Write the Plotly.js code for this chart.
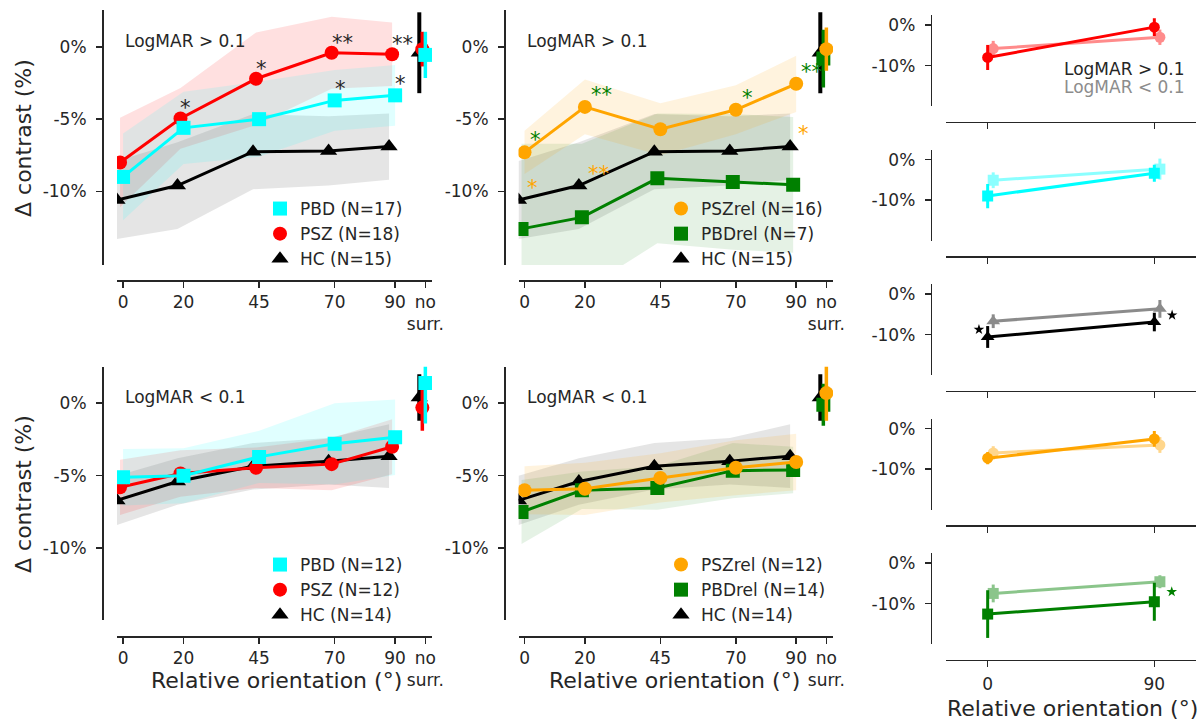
<!DOCTYPE html>
<html><head><meta charset="utf-8">
<script src="https://cdn.plot.ly/plotly-3.0.1.min.js"></script>
<style>html,body{margin:0;padding:0;background:#fff}#chart{width:1202px;height:721px}</style>
</head><body><div id="chart"></div>
<script>
// ---------------- data ----------------
const orientations = [0, 20, 45, 70, 90];
const noSurrPos = 100;
const xTickVals = [0, 20, 45, 70, 90, 100];
const xTickText = ['0', '20', '45', '70', '90', 'no<br>surr.'];
const yTickVals = [0, -5, -10];
const yTickText = ['0%', '-5%', '-10%'];
const smallXTickVals = [0, 90];
const smallXTickText = ['0', '90'];
const smallYTickVals = [0, -10];
const smallYTickText = ['0%', '-10%'];

// LogMAR > 0.1 (top row)
const hiHC = [-10.6, -9.6, -7.25, -7.2, -6.9];
const hiHCErr = [2.7, 3.0, 2.6, 2.4, 2.3];
const hiHCNoSurr = [-0.4], hiHCNoSurrErr = [2.8];
const hiPSZ = [-8.0, -4.95, -2.2, -0.4, -0.5];
const hiPSZErr = [3.1, 2.1, 3.2, 2.5, 2.2];
const hiPSZNoSurr = [-0.15], hiPSZNoSurrErr = [1.2];
const hiPBD = [-9.0, -5.6, -5.0, -3.7, -3.35];
const hiPBDErr = [3.0, 2.5, 2.6, 2.1, 2.1];
const hiPBDNoSurr = [-0.55], hiPBDNoSurrErr = [1.6];
const hiPSZrel = [-7.3, -4.15, -5.7, -4.35, -2.55];
const hiPSZrelErr = [1.5, 1.9, 1.8, 1.7, 1.95];
const hiPSZrelNoSurr = [-0.15], hiPSZrelNoSurrErr = [1.5];
const hiPBDrel = [-12.6, -11.8, -9.1, -9.35, -9.55];
const hiPBDrelErr = [5.9, 5.1, 4.5, 4.7, 4.7];
const hiPBDrelNoSurr = [-0.8], hiPBDrelNoSurrErr = [2.0];

// LogMAR < 0.1 (bottom row)
const loHC = [-6.7, -5.4, -4.35, -4.0, -3.65];
const loHCErr = [1.7, 1.6, 1.6, 1.6, 2.2];
const loHCNoSurr = [0.4], loHCNoSurrErr = [1.6];
const loPSZ = [-5.8, -4.85, -4.45, -4.2, -3.0];
const loPSZErr = [1.9, 1.6, 1.4, 1.8, 1.9];
const loPSZNoSurr = [-0.3], loPSZNoSurrErr = [1.6];
const loPBD = [-5.1, -5.0, -3.7, -2.8, -2.35];
const loPBDErr = [1.95, 1.9, 1.8, 2.8, 2.6];
const loPBDNoSurr = [1.4], loPBDNoSurrErr = [2.8];
const loPSZrel = [-6.0, -5.9, -5.15, -4.45, -4.05];
const loPSZrelErr = [1.65, 1.8, 1.7, 1.9, 1.95];
const loPSZrelNoSurr = [0.7], loPSZrelNoSurrErr = [1.9];
const loPBDrel = [-7.5, -6.0, -5.85, -4.65, -4.6];
const loPBDrelErr = [2.2, 1.3, 1.5, 1.9, 1.6];
const loPBDrelNoSurr = [-0.1], loPBDrelNoSurrErr = [1.45];

// ---------------- style ----------------
const W = 1202, H = 721;
const fx = px => px / W, fy = py => 1 - py / H;
const FONT = 'DejaVu Sans, Liberation Sans, sans-serif';
const TXT = '#262626';
const COL = {HC: '#000000', PSZ: '#ff0000', PBD: '#00ffff', PSZrel: '#ffa500', PBDrel: '#008000'};
const SYM = {HC: 'triangle-up', PSZ: 'circle', PBD: 'square', PSZrel: 'circle', PBDrel: 'square'};
const MSIZE = {HC: 15, PSZ: 14, PBD: 14, PSZrel: 14, PBDrel: 14};
const SMSIZE = {HC: 12, PSZ: 11, PBD: 11, PSZrel: 11, PBDrel: 11};
const BAND_ALPHA = {HC: 0.10, PSZ: 0.12, PBD: 0.12, PSZrel: 0.13, PBDrel: 0.10};

function rgba(hex, a) {
  const n = parseInt(hex.slice(1), 16);
  return `rgba(${(n >> 16) & 255},${(n >> 8) & 255},${n & 255},${a})`;
}

const traces = [];
const annotations = [];

function addMainPanel(p) {
  const ax = {xaxis: p.x, yaxis: p.y};
  p.groups.forEach(g => {
    const xs = orientations.map(o => o + g.dx);
    const up = g.mean.map((m, i) => m + g.err[i]);
    const lo = g.mean.map((m, i) => m - g.err[i]);
    traces.push(Object.assign({}, ax, {
      type: 'scatter', mode: 'lines',
      x: xs.concat(xs.slice().reverse()), y: up.concat(lo.slice().reverse()),
      fill: 'toself', fillcolor: rgba(COL[g.key], BAND_ALPHA[g.key]),
      line: {width: 0, color: 'rgba(0,0,0,0)'}, hoverinfo: 'skip', showlegend: false
    }));
  });
  p.groups.forEach(g => {
    const xs = orientations.map(o => o + g.dx);
    traces.push(Object.assign({}, ax, {
      type: 'scatter', mode: 'lines', x: xs, y: g.mean,
      line: {color: COL[g.key], width: 3}, showlegend: false, hoverinfo: 'skip'
    }));
    traces.push(Object.assign({}, ax, {
      type: 'scatter', mode: 'markers', x: xs, y: g.mean,
      marker: {symbol: SYM[g.key], size: MSIZE[g.key], color: COL[g.key]},
      name: g.label, legend: p.legend, legendrank: g.rank, showlegend: true
    }));
    traces.push(Object.assign({}, ax, {
      type: 'scatter', mode: 'markers', x: [noSurrPos + g.dx], y: g.ns,
      error_y: {type: 'data', array: g.nsErr, visible: true, color: COL[g.key],
                thickness: g.key === 'HC' ? 4 : 3.5, width: 0},
      marker: {symbol: SYM[g.key], size: MSIZE[g.key], color: COL[g.key]},
      showlegend: false
    }));
  });
  p.stars.forEach(s => {
    const g = p.groups.find(q => q.key === s.key);
    annotations.push({
      xref: p.x, yref: p.y, x: orientations[s.i] + g.dx, y: g.mean[s.i],
      text: s.t, showarrow: false, xanchor: 'left', yanchor: 'middle',
      xshift: s.xs, yshift: s.ys, font: {family: FONT, size: 21, color: s.c}
    });
  });
  annotations.push({
    xref: p.x, yref: p.y, x: 0, y: p.labelY, text: p.label, showarrow: false,
    xanchor: 'left', yanchor: 'middle', font: {family: FONT, size: 17, color: TXT}
  });
}

const layout = {
  width: W, height: H, margin: {l: 0, r: 0, t: 0, b: 0},
  paper_bgcolor: '#fff', plot_bgcolor: 'rgba(0,0,0,0)', showlegend: true,
  font: {family: FONT, color: TXT}, annotations: annotations
};

function mainX(d0, d1, posPy) {
  return {domain: [fx(d0), fx(d1)], anchor: 'free', position: fy(posPy), range: [-2, 102.2],
    tickmode: 'array', tickvals: xTickVals, ticktext: xTickText, tickangle: 0, showgrid: false, zeroline: false,
    showline: true, linecolor: TXT, linewidth: 1.5, ticks: 'outside', ticklen: 6, tickwidth: 1.5,
    tickcolor: TXT, tickfont: {family: FONT, size: 17, color: TXT}, ticklabelstandoff: 0, fixedrange: true};
}
function mainY(top, bot, posPx, range) {
  return {domain: [fy(bot), fy(top)], anchor: 'free', position: fx(posPx), range: range,
    tickmode: 'array', tickvals: yTickVals, ticktext: yTickText, showgrid: false, zeroline: false,
    showline: true, linecolor: TXT, linewidth: 1.5, ticks: 'outside', ticklen: 6, tickwidth: 1.5,
    tickcolor: TXT, tickfont: {family: FONT, size: 17, color: TXT}, ticklabelstandoff: 6, fixedrange: true};
}

layout.xaxis = mainX(117, 432, 280);   layout.yaxis = mainY(10, 265, 102, [-15.1, 2.56]);
layout.xaxis2 = mainX(518.5, 833, 280); layout.yaxis2 = mainY(10, 265, 504, [-15.1, 2.56]);
layout.xaxis3 = mainX(117, 432, 636);   layout.yaxis3 = mainY(366.7, 620, 102, [-14.95, 2.52]);
layout.xaxis4 = mainX(518.5, 833, 636); layout.yaxis4 = mainY(366.7, 620, 504, [-14.95, 2.52]);

function legendAt(textLeftPx, topPx) {
  return {x: fx(textLeftPx - 40), y: fy(topPx), xanchor: 'left', yanchor: 'top',
    bgcolor: 'rgba(0,0,0,0)', borderwidth: 0, font: {family: FONT, size: 17, color: TXT},
    itemwidth: 30, tracegroupgap: 0, traceorder: 'normal'};
}
layout.legend = legendAt(300, 191);
layout.legend2 = legendAt(701, 191);
layout.legend3 = legendAt(300, 547);
layout.legend4 = legendAt(701, 547);

addMainPanel({x: 'x', y: 'y', legend: 'legend', label: 'LogMAR &gt; 0.1', labelY: 0.4,
  groups: [
    {key: 'HC', mean: hiHC, err: hiHCErr, ns: hiHCNoSurr, nsErr: hiHCNoSurrErr, dx: -2, rank: 3, label: 'HC (N=15)'},
    {key: 'PSZ', mean: hiPSZ, err: hiPSZErr, ns: hiPSZNoSurr, nsErr: hiPSZNoSurrErr, dx: -1, rank: 2, label: 'PSZ (N=18)'},
    {key: 'PBD', mean: hiPBD, err: hiPBDErr, ns: hiPBDNoSurr, nsErr: hiPBDNoSurrErr, dx: 0, rank: 1, label: 'PBD (N=17)'}],
  stars: [
    {key: 'PSZ', i: 1, t: '*', c: TXT, xs: -2, ys: 10},
    {key: 'PSZ', i: 2, t: '*', c: TXT, xs: -2, ys: 10},
    {key: 'PSZ', i: 3, t: '**', c: TXT, xs: -2, ys: 10},
    {key: 'PSZ', i: 4, t: '**', c: TXT, xs: -2, ys: 10},
    {key: 'PBD', i: 3, t: '*', c: TXT, xs: -2, ys: 11},
    {key: 'PBD', i: 4, t: '*', c: TXT, xs: -2, ys: 11}]
});
addMainPanel({x: 'x2', y: 'y2', legend: 'legend2', label: 'LogMAR &gt; 0.1', labelY: 0.4,
  groups: [
    {key: 'HC', mean: hiHC, err: hiHCErr, ns: hiHCNoSurr, nsErr: hiHCNoSurrErr, dx: -2, rank: 3, label: 'HC (N=15)'},
    {key: 'PBDrel', mean: hiPBDrel, err: hiPBDrelErr, ns: hiPBDrelNoSurr, nsErr: hiPBDrelNoSurrErr, dx: -1, rank: 2, label: 'PBDrel (N=7)'},
    {key: 'PSZrel', mean: hiPSZrel, err: hiPSZrelErr, ns: hiPSZrelNoSurr, nsErr: hiPSZrelNoSurrErr, dx: 0, rank: 1, label: 'PSZrel (N=16)'}],
  stars: [
    {key: 'PSZrel', i: 0, t: '*', c: COL.PBDrel, xs: 3, ys: 12},
    {key: 'PSZrel', i: 1, t: '**', c: COL.PBDrel, xs: 4, ys: 12},
    {key: 'PSZrel', i: 3, t: '*', c: COL.PBDrel, xs: 4, ys: 12},
    {key: 'PSZrel', i: 4, t: '**', c: COL.PBDrel, xs: 3, ys: 12},
    {key: 'HC', i: 0, t: '*', c: COL.PSZrel, xs: 6, ys: 12},
    {key: 'HC', i: 1, t: '**', c: COL.PSZrel, xs: 7, ys: 12},
    {key: 'HC', i: 4, t: '*', c: COL.PSZrel, xs: 6, ys: 13}]
});
addMainPanel({x: 'x3', y: 'y3', legend: 'legend3', label: 'LogMAR &lt; 0.1', labelY: 0.46,
  groups: [
    {key: 'HC', mean: loHC, err: loHCErr, ns: loHCNoSurr, nsErr: loHCNoSurrErr, dx: -2, rank: 3, label: 'HC (N=14)'},
    {key: 'PSZ', mean: loPSZ, err: loPSZErr, ns: loPSZNoSurr, nsErr: loPSZNoSurrErr, dx: -1, rank: 2, label: 'PSZ (N=12)'},
    {key: 'PBD', mean: loPBD, err: loPBDErr, ns: loPBDNoSurr, nsErr: loPBDNoSurrErr, dx: 0, rank: 1, label: 'PBD (N=12)'}],
  stars: []
});
addMainPanel({x: 'x4', y: 'y4', legend: 'legend4', label: 'LogMAR &lt; 0.1', labelY: 0.46,
  groups: [
    {key: 'HC', mean: loHC, err: loHCErr, ns: loHCNoSurr, nsErr: loHCNoSurrErr, dx: -2, rank: 3, label: 'HC (N=14)'},
    {key: 'PBDrel', mean: loPBDrel, err: loPBDrelErr, ns: loPBDrelNoSurr, nsErr: loPBDrelNoSurrErr, dx: -1, rank: 2, label: 'PBDrel (N=14)'},
    {key: 'PSZrel', mean: loPSZrel, err: loPSZrelErr, ns: loPSZrelNoSurr, nsErr: loPSZrelNoSurrErr, dx: 0, rank: 1, label: 'PSZrel (N=12)'}],
  stars: []
});

// ---------------- right column (0 vs 90) ----------------
const rightRows = [
  {key: 'PSZ', hi: hiPSZ, hiErr: hiPSZErr, lo: loPSZ, loErr: loPSZErr, stars: []},
  {key: 'PBD', hi: hiPBD, hiErr: hiPBDErr, lo: loPBD, loErr: loPBDErr, stars: []},
  {key: 'HC', hi: hiHC, hiErr: hiHCErr, lo: loHC, loErr: loHCErr,
    stars: [{i: 0, dx: -4.7, dy: 1.85}, {i: 4, dx: 9.6, dy: 1.7}]},
  {key: 'PSZrel', hi: hiPSZrel, hiErr: hiPSZrelErr, lo: loPSZrel, loErr: loPSZrelErr, stars: []},
  {key: 'PBDrel', hi: hiPBDrel, hiErr: hiPBDrelErr, lo: loPBDrel, loErr: loPBDrelErr,
    stars: [{i: 4, dx: 9.4, dy: 2.45}]}
];
const pick = arr => [arr[0], arr[4]];
const rowTops = [15, 149.5, 284, 418.5, 553];
const ROW_H = 91;
const FADE_DX = 3;

rightRows.forEach((r, k) => {
  const n = 5 + k;
  const xa = 'x' + n, ya = 'y' + n;
  const top = rowTops[k];
  layout['xaxis' + n] = {domain: [fx(946), fx(1196)], anchor: 'free', position: fy(top + 106.7),
    range: [-22.5, 112.5], tickmode: 'array', tickvals: smallXTickVals, ticktext: smallXTickText, tickangle: 0,
    showticklabels: k === 4, showgrid: false, zeroline: false, showline: true, linecolor: TXT,
    linewidth: 1.5, ticks: 'outside', ticklen: 6, tickwidth: 1.5, tickcolor: TXT,
    tickfont: {family: FONT, size: 17, color: TXT}, ticklabelstandoff: 2, fixedrange: true};
  layout['yaxis' + n] = {domain: [fy(top + ROW_H), fy(top)], anchor: 'free', position: fx(930.7),
    range: [-20, 2.5], tickmode: 'array', tickvals: smallYTickVals, ticktext: smallYTickText,
    showgrid: false, zeroline: false, showline: true, linecolor: TXT, linewidth: 1.5,
    ticks: 'outside', ticklen: 6, tickwidth: 1.5, tickcolor: TXT,
    tickfont: {family: FONT, size: 17, color: TXT}, ticklabelstandoff: 6, fixedrange: true};
  const c = COL[r.key];
  // LogMAR < 0.1 (faded)
  traces.push({xaxis: xa, yaxis: ya, type: 'scatter', mode: 'lines+markers',
    x: smallXTickVals.map(v => v + FADE_DX), y: pick(r.lo), opacity: 0.45,
    line: {color: c, width: 3}, marker: {symbol: SYM[r.key], size: SMSIZE[r.key], color: c},
    error_y: {type: 'data', array: pick(r.loErr), visible: true, color: c, thickness: 3, width: 0},
    showlegend: false});
  // LogMAR > 0.1 (solid)
  traces.push({xaxis: xa, yaxis: ya, type: 'scatter', mode: 'lines+markers',
    x: smallXTickVals, y: pick(r.hi),
    line: {color: c, width: 3}, marker: {symbol: SYM[r.key], size: SMSIZE[r.key], color: c},
    error_y: {type: 'data', array: pick(r.hiErr), visible: true, color: c, thickness: 3, width: 0},
    showlegend: false});
  if (r.stars.length) {
    traces.push({xaxis: xa, yaxis: ya, type: 'scatter', mode: 'markers',
      x: r.stars.map(s => orientations[s.i] + s.dx), y: r.stars.map(s => r.hi[s.i] + s.dy),
      marker: {symbol: 'star', size: 8, color: c}, showlegend: false, cliponaxis: false});
  }
});

annotations.push(
  {xref: 'paper', yref: 'paper', x: fx(1187), y: fy(69.3), xanchor: 'right', yanchor: 'middle',
   text: 'LogMAR &gt; 0.1', showarrow: false, font: {family: FONT, size: 17, color: TXT}},
  {xref: 'paper', yref: 'paper', x: fx(1187), y: fy(87.3), xanchor: 'right', yanchor: 'middle',
   text: 'LogMAR &lt; 0.1', showarrow: false, font: {family: FONT, size: 17, color: '#8c8c8c'}},
  {xref: 'paper', yref: 'paper', x: fx(23), y: fy(138), textangle: -90, xanchor: 'center', yanchor: 'middle',
   text: 'Δ contrast (%)', showarrow: false, font: {family: FONT, size: 22, color: TXT}},
  {xref: 'paper', yref: 'paper', x: fx(23), y: fy(494), textangle: -90, xanchor: 'center', yanchor: 'middle',
   text: 'Δ contrast (%)', showarrow: false, font: {family: FONT, size: 22, color: TXT}},
  {xref: 'paper', yref: 'paper', x: fx(276), y: fy(680), xanchor: 'center', yanchor: 'middle',
   text: 'Relative orientation (°)', showarrow: false, font: {family: FONT, size: 22, color: TXT}},
  {xref: 'paper', yref: 'paper', x: fx(675), y: fy(680), xanchor: 'center', yanchor: 'middle',
   text: 'Relative orientation (°)', showarrow: false, font: {family: FONT, size: 22, color: TXT}},
  {xref: 'paper', yref: 'paper', x: fx(1072), y: fy(708), xanchor: 'center', yanchor: 'middle',
   text: 'Relative orientation (°)', showarrow: false, font: {family: FONT, size: 22, color: TXT}}
);

Plotly.newPlot('chart', traces, layout, {displayModeBar: false, staticPlot: true});
</script>
</body></html>
